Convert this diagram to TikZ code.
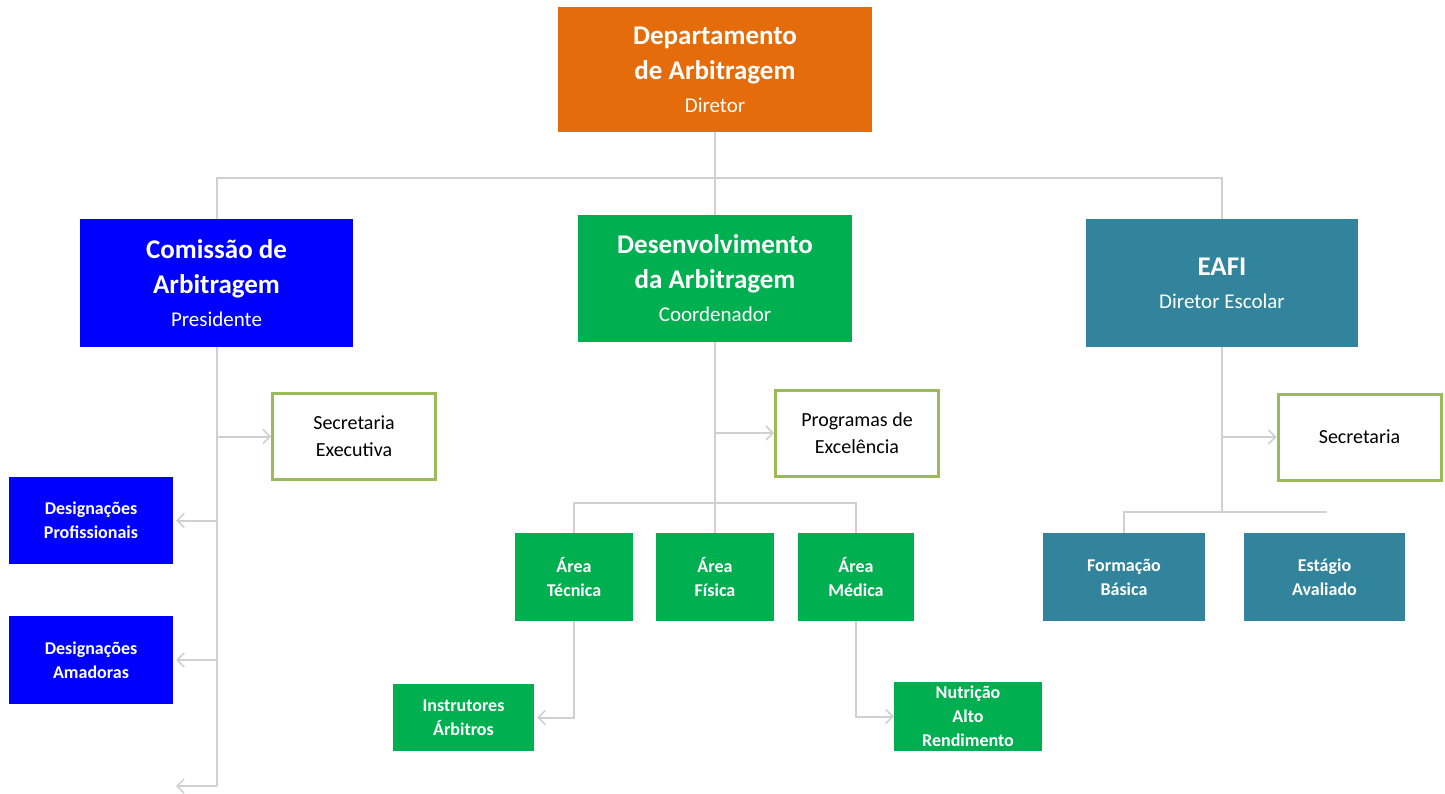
\documentclass[tikz,border=0pt]{standalone}
\usepackage{fontspec}
\setmainfont{Carlito}
\usetikzlibrary{arrows.meta}
\definecolor{deporange}{HTML}{E46C0A}
\definecolor{comblue}{HTML}{0000FF}
\definecolor{desgreen}{HTML}{00B050}
\definecolor{eafiteal}{HTML}{31849B}
\definecolor{secolive}{HTML}{9BBB59}
\definecolor{linkgray}{HTML}{D0D0D0}
\begin{document}
\begin{tikzpicture}[x=1pt,y=-1pt,
  box/.style={rectangle,inner sep=0pt,align=center,text=white,fill=#1},
  bigbox/.style={box=#1,font=\fontsize{27}{35}\selectfont\bfseries},
  smallbox/.style={box=#1,font=\fontsize{18}{24}\selectfont\bfseries},
  secbox/.style={rectangle,inner sep=0pt,align=center,draw=secolive,line width=3pt,
    fill=white,text=black,font=\fontsize{20}{27}\selectfont,
    minimum width=163pt,minimum height=86pt},
  link/.style={draw=linkgray,line width=2pt},
  arrow/.style={link,-{Straight Barb[length=7pt,width=14pt,line width=1.5pt]}}]
\useasboundingbox (0,0) rectangle (1445,794);

% top level
\node[bigbox=deporange,minimum width=314pt,minimum height=125pt] (dep) at (715,69.5)
  {Departamento\\de Arbitragem\\[-2pt]{\fontsize{21}{33}\selectfont\mdseries Diretor}};
\node[bigbox=comblue,minimum width=273pt,minimum height=128pt] (com) at (216.5,283)
  {Comissão de\\Arbitragem\\[-2pt]{\fontsize{21}{33}\selectfont\mdseries Presidente}};
\node[bigbox=desgreen,minimum width=274pt,minimum height=127pt] (desenv) at (715,278.5)
  {Desenvolvimento\\da Arbitragem\\[-2pt]{\fontsize{21}{33}\selectfont\mdseries Coordenador}};
\node[bigbox=eafiteal,minimum width=272pt,minimum height=128pt] (eafi) at (1222,283)
  {EAFI\\[-2pt]{\fontsize{21}{33}\selectfont\mdseries Diretor Escolar}};

% secretarias
\node[secbox] (secexec) at (354,436.5) {Secretaria\\Executiva};
\node[secbox] (progexc) at (857,433) {Programas de\\Excelência};
\node[secbox] (seceafi) at (1359.5,437) {Secretaria};

% comissao
\node[smallbox=comblue,minimum width=164pt,minimum height=87pt] (desprof) at (91,520.5)
  {Designações\\Profissionais};
\node[smallbox=comblue,minimum width=164pt,minimum height=88pt] (desamad) at (91,660)
  {Designações\\Amadoras};

% desenvolvimento
\node[smallbox=desgreen,minimum width=118pt,minimum height=88pt] (areatec) at (574,577)
  {Área\\Técnica};
\node[smallbox=desgreen,minimum width=118pt,minimum height=88pt] (areafis) at (715,577)
  {Área\\Física};
\node[smallbox=desgreen,minimum width=116pt,minimum height=88pt] (areamed) at (856,577)
  {Área\\Médica};
\node[smallbox=desgreen,minimum width=141pt,minimum height=67pt] (instr) at (463.5,717.5)
  {Instrutores\\Árbitros};
\node[smallbox=desgreen,minimum width=148pt,minimum height=69pt] (nutri) at (968,716.5)
  {Nutrição\\Alto\\Rendimento};

% eafi
\node[smallbox=eafiteal,minimum width=162pt,minimum height=88pt] (formbas) at (1124,577)
  {Formação\\Básica};
\node[smallbox=eafiteal,minimum width=161pt,minimum height=88pt] (estagio) at (1324.5,577)
  {Estágio\\Avaliado};

% connectors
\coordinate (topbus) at (715,178);
\coordinate (combot) at (216.5,786);
\coordinate (comfree) at (176,786);
\coordinate (areabus) at (715,503);
\coordinate (eafibus) at (1222,512);
\coordinate (eafiend) at (1327,512);
\draw[link] (dep.south) -- (desenv.north);
\draw[link] (com.north) |- (topbus) -| (eafi.north);

\draw[link] (com.south) -- (combot);
\draw[arrow] (com.south |- secexec.west) -- (secexec.west);
\draw[arrow,shorten >=3pt] (com.south |- desprof.east) -- (desprof.east);
\draw[arrow,shorten >=3pt] (com.south |- desamad.east) -- (desamad.east);
\draw[arrow] (combot) -- (comfree);

\draw[link] (desenv.south) -- (areabus);
\draw[arrow] (desenv.south |- progexc.west) -- (progexc.west);
\draw[link] (areatec.north) |- (areabus) -| (areamed.north);
\draw[link] (areabus) -- (areafis.north);
\draw[arrow,shorten >=3pt] (areatec.south) |- (instr.east);
\draw[arrow] (areamed.south) |- (nutri.west);

\draw[link] (eafi.south) -- (eafibus);
\draw[arrow] (eafi.south |- seceafi.west) -- (seceafi.west);
\draw[link] (formbas.north) |- (eafibus) -- (eafiend);
\end{tikzpicture}
\end{document}
